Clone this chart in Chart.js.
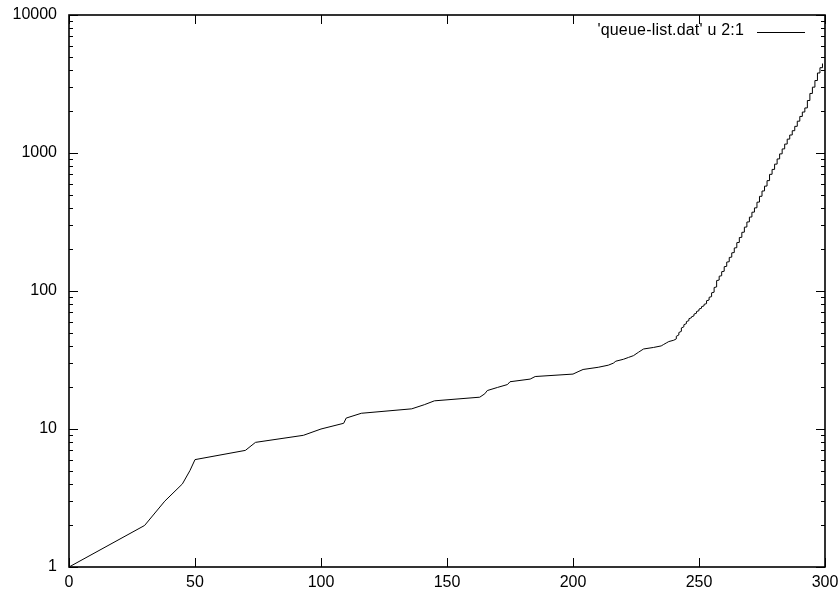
<!DOCTYPE html>
<html>
<head>
<meta charset="utf-8">
<script src="https://cdn.jsdelivr.net/npm/chart.js@4.4.0/dist/chart.umd.min.js"></script>
<style>
  body { margin: 0; background: #fff; }
</style>
</head>
<body>
<canvas id="myChart" width="840" height="592"></canvas>
<script>
const seriesLabel = "'queue-list.dat' u 2:1";

// column 2 (x) values, and column 1 (row count) at the end of each run of equal x
const queueLen = [0, 30, 38, 45, 48, 50, 70, 74, 93, 100, 109, 110, 116, 136, 141, 145,
  163, 165, 166, 170, 174, 175, 183, 185, 200, 202, 204, 210, 214, 216, 217, 220,
  222, 224, 225, 226, 227, 228, 232, 235, 236, 237, 238,
  240, 241, 242, 243, 244, 245, 246, 247, 248, 249, 250, 251, 252, 253, 254, 255,
  256, 257, 258, 259, 260, 261, 262, 263, 264, 265, 266, 267, 268, 269, 270, 271,
  272, 273, 274, 275, 276, 277, 278, 279, 280, 281, 282, 283, 284, 285, 286, 287,
  288, 289, 290, 291, 292, 293, 294, 295, 296, 297, 298, 299];
const countAt = [1, 2, 3, 4, 5, 6, 7, 8, 9, 10, 11, 12, 13, 14, 15, 16,
  17, 18, 19, 20, 21, 22, 23, 24, 25, 26, 27, 28, 29, 30, 31, 32,
  33, 34, 35, 36, 37, 38, 39, 40, 41, 42, 43,
  44, 47, 50, 54, 57, 60, 63, 65, 68, 71, 74, 77, 80, 85, 90, 97,
  106, 119, 128, 138, 150, 162, 175, 189, 205, 224, 244, 266, 290, 316, 343, 372,
  400, 440, 485, 530, 575, 630, 700, 760, 830, 905, 985, 1070, 1160, 1260, 1350, 1450,
  1560, 1700, 1840, 1980, 2120, 2400, 2700, 3000, 3350, 3800, 4150, 4450];

const xTicks = [0, 50, 100, 150, 200, 250, 300];
const yTicks = [1, 10, 100, 1000, 10000];

// one row per line of the file: a run of equal x gives a vertical piece
const points = [{ x: queueLen[0], y: countAt[0] }];
for (let i = 1; i < queueLen.length; i++) {
  if (countAt[i] - countAt[i - 1] > 1) {
    points.push({ x: queueLen[i], y: countAt[i - 1] + 1 });
  }
  points.push({ x: queueLen[i], y: countAt[i] });
}

const tickFont = { family: 'Liberation Sans', size: 16 };

const framePlugin = {
  id: 'frame',
  afterDraw(chart) {
    const c = chart.ctx;
    const a = chart.chartArea;
    const xs = chart.scales.x;
    const ys = chart.scales.y;
    c.save();
    c.strokeStyle = '#000';
    c.lineWidth = 1.6;
    c.strokeRect(a.left, a.top, a.right - a.left, a.bottom - a.top);

    c.lineWidth = 1;
    c.beginPath();
    // x ticks, both sides
    xTicks.forEach(v => {
      const px = Math.round(xs.getPixelForValue(v)) + 0.5;
      c.moveTo(px, a.bottom); c.lineTo(px, a.bottom - 9);
      c.moveTo(px, a.top); c.lineTo(px, a.top + 9);
    });
    // y ticks, major and minor, both sides
    for (let d = 0; d < yTicks.length; d++) {
      for (let m = 1; m < 10; m++) {
        const v = yTicks[d] * m;
        if (v > yTicks[yTicks.length - 1]) break;
        const len = m === 1 ? 9 : 4;
        const py = Math.round(ys.getPixelForValue(v)) + 0.5;
        c.moveTo(a.left, py); c.lineTo(a.left + len, py);
        c.moveTo(a.right, py); c.lineTo(a.right - len, py);
      }
    }
    c.stroke();

    // key, top right inside the plot
    c.font = '16px "Liberation Sans"';
    c.fillStyle = '#000';
    c.textAlign = 'right';
    c.textBaseline = 'alphabetic';
    c.letterSpacing = '0.2px';
    c.fillText(chart.data.datasets[0].label, 744, 35);
    c.beginPath();
    c.moveTo(757, 32.5);
    c.lineTo(805, 32.5);
    c.stroke();
    c.restore();
  }
};

new Chart(document.getElementById('myChart'), {
  type: 'line',
  data: {
    datasets: [{
      label: seriesLabel,
      data: points,
      borderColor: '#000',
      borderWidth: 1,
      pointRadius: 0,
      tension: 0,
      fill: false
    }]
  },
  options: {
    responsive: false,
    animation: false,
    devicePixelRatio: 1,
    layout: { padding: { top: 15, right: 15, left: 0, bottom: 0 } },
    plugins: {
      legend: { display: false },
      tooltip: { enabled: false }
    },
    scales: {
      x: {
        type: 'linear',
        min: 0,
        max: 300,
        afterBuildTicks: s => { s.ticks = xTicks.map(v => ({ value: v })); },
        afterFit: s => { s.height = 25; },
        grid: { display: false, drawTicks: true, tickLength: 6 },
        border: { display: false },
        ticks: { padding: 0, color: '#000', font: tickFont, maxRotation: 0, autoSkip: false,
          callback: v => String(v) }
      },
      y: {
        type: 'logarithmic',
        min: 1,
        max: 10000,
        afterBuildTicks: s => { s.ticks = yTicks.map(v => ({ value: v })); },
        afterFit: s => { s.width = 69; },
        grid: { display: false, drawTicks: true, tickLength: 12 },
        border: { display: false },
        ticks: { padding: 0, color: '#000', font: tickFont, autoSkip: false,
          callback: v => String(v) }
      }
    }
  },
  plugins: [framePlugin]
});
</script>
</body>
</html>
